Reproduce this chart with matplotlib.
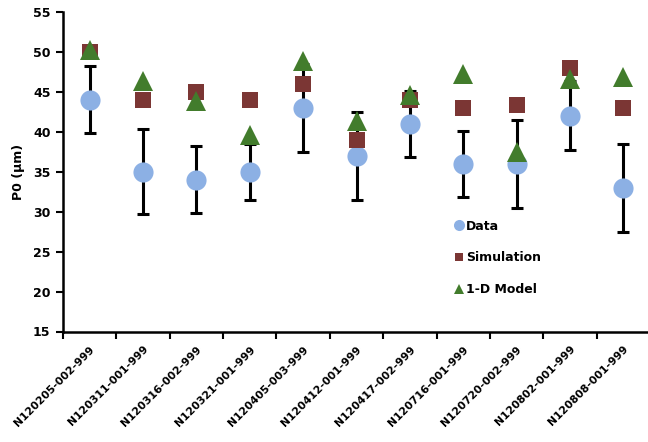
import matplotlib
matplotlib.use("Agg")
import matplotlib.pyplot as plt
import numpy as np

categories = ["N120205-002-999", "N120311-001-999", "N120316-002-999", "N120321-001-999",
              "N120405-003-999", "N120412-001-999", "N120417-002-999", "N120716-001-999",
              "N120720-002-999", "N120802-001-999", "N120808-001-999"]
data_vals = [44, 35, 34, 35, 43, 37, 41, 36, 36, 42, 33]
data_err = [4.2, 5.3, 4.2, 3.5, 5.5, 5.5, 4.1, 4.1, 5.5, 4.3, 5.5]
sim_vals = [50, 44, 45, 44, 46, 39, 44, 43, 43.4, 48, 43]
model_vals = [50.2, 46.4, 43.8, 39.6, 48.9, 41.4, 44.6, 47.3, 37.5, 46.6, 46.9]

fig = plt.figure(figsize=(6.48, 4.42), dpi=100)
ax = fig.add_axes([63/648, 1-331.5/442, 587/648, (331.5-12)/442])

x = np.arange(len(categories))
ax.errorbar(x, data_vals, yerr=data_err, fmt='none', ecolor='black', elinewidth=2.2,
            capsize=4.5, capthick=2.2, zorder=2)
ax.plot(x, data_vals, 'o', color='#8cb0e4', markersize=14.5, markeredgewidth=0,
        label='Data', zorder=3)
ax.plot(x, sim_vals, 's', color='#7b3634', markersize=11, markeredgewidth=0,
        label='Simulation', zorder=4)
ax.plot(x, model_vals, '^', color='#427c2c', markersize=14, markeredgewidth=0,
        label='1-D Model', zorder=5)

ax.set_xlim(-0.5, len(categories) - 0.5)
ax.set_ylim(15, 55)
ax.set_yticks(np.arange(15, 56, 5))
ax.tick_params(axis='y', direction='out', length=5, width=1.5, labelsize=9, pad=4)
for lbl in ax.get_yticklabels():
    lbl.set_fontweight('bold')

ax.set_xticks(x)
ax.set_xticklabels(categories, rotation=45, ha='right', va='top',
                   rotation_mode='anchor', fontsize=7.8, fontweight='semibold')
ax.set_xticks(np.arange(-0.5, len(categories), 1.0), minor=True)
ax.tick_params(axis='x', which='major', length=0, pad=9)
ax.tick_params(axis='x', which='minor', direction='out', length=5, width=1.5)

for s in ['top', 'right']:
    ax.spines[s].set_visible(False)
for s in ['left', 'bottom']:
    ax.spines[s].set_linewidth(1.8)
    ax.spines[s].set_color('black')

ax.set_ylabel('P0 (μm)', fontsize=9, fontweight='bold', labelpad=6)

leg = ax.legend(loc='upper left', bbox_to_anchor=(0.655, 0.366), frameon=False,
                prop={'weight': 'bold', 'size': 9}, labelspacing=1.5,
                handletextpad=0.1, handlelength=1.0, markerscale=0.55,
                borderaxespad=0)

fig.savefig('out.png', dpi=100)
